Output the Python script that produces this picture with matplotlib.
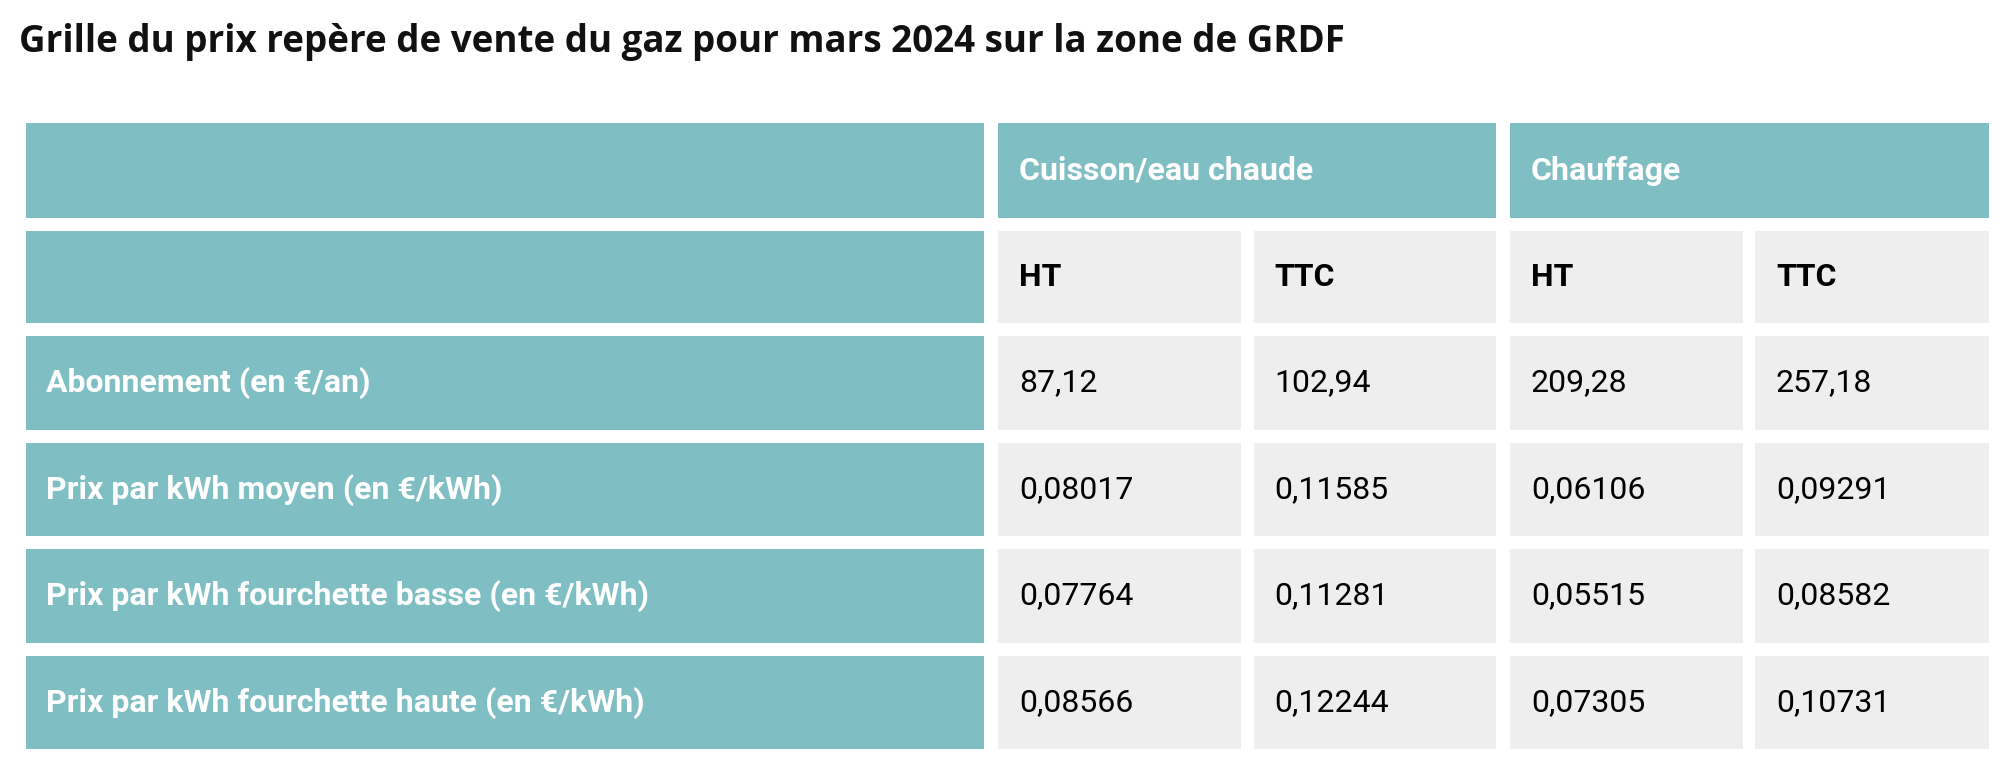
import matplotlib
matplotlib.use("Agg")
import matplotlib.pyplot as plt
from matplotlib.patches import Rectangle

title = "Grille du prix repère de vente du gaz pour mars 2024 sur la zone de GRDF"
groups = ["Cuisson/eau chaude", "Chauffage"]
subheaders = ["HT", "TTC", "HT", "TTC"]
row_labels = ["Abonnement (en €/an)", "Prix par kWh moyen (en €/kWh)",
              "Prix par kWh fourchette basse (en €/kWh)", "Prix par kWh fourchette haute (en €/kWh)"]
cuisson_ht = ["87,12", "0,08017", "0,07764", "0,08566"]
cuisson_ttc = ["102,94", "0,11585", "0,11281", "0,12244"]
chauffage_ht = ["209,28", "0,06106", "0,05515", "0,07305"]
chauffage_ttc = ["257,18", "0,09291", "0,08582", "0,10731"]

TEAL = "#7fbfc3"
GREY = "#eeeeee"
S = 2012 / 1568

fig = plt.figure(figsize=(20.12, 7.84), dpi=100)
ax = fig.add_axes([0, 0, 1, 1])
ax.set_xlim(0, 2012); ax.set_ylim(784, 0); ax.axis("off")

cols = [(20, 767), (778, 967), (977, 1166), (1177, 1358), (1368, 1550)]
rows = [(96, 170), (180, 252), (262, 335), (345, 418), (428, 501), (511, 584)]

def rect(x0, x1, y0, y1, c):
    ax.add_patch(Rectangle((x0 * S, y0 * S), (x1 - x0) * S, (y1 - y0) * S, color=c, lw=0))

def txt(x, y, s, color, bold):
    ax.text((x) * S, y * S, s, color=color, fontsize=23, fontfamily="Roboto",
            fontweight="bold" if bold else "normal", va="center", ha="left")

ax.text(15 * S, 33 * S, title, fontsize=26.5, fontweight="bold", fontfamily="Open Sans",
        va="center", ha="left", color="#111111")

r = rows[0]
rect(cols[0][0], cols[0][1], r[0], r[1], TEAL)
rect(cols[1][0], cols[2][1], r[0], r[1], TEAL)
rect(cols[3][0], cols[4][1], r[0], r[1], TEAL)
ym = (r[0] + r[1]) / 2
txt(cols[1][0] + 16, ym, groups[0], "white", True)
txt(cols[3][0] + 16, ym, groups[1], "white", True)

r = rows[1]
ym = (r[0] + r[1]) / 2
rect(cols[0][0], cols[0][1], r[0], r[1], TEAL)
for j, h in enumerate(subheaders):
    c = cols[j + 1]
    rect(c[0], c[1], r[0], r[1], GREY)
    txt(c[0] + 16, ym, h, "black", True)

data_cols = [cuisson_ht, cuisson_ttc, chauffage_ht, chauffage_ttc]
for i, lab in enumerate(row_labels):
    r = rows[i + 2]
    ym = (r[0] + r[1]) / 2
    rect(cols[0][0], cols[0][1], r[0], r[1], TEAL)
    txt(cols[0][0] + 16, ym, lab, "white", True)
    for j, vals in enumerate(data_cols):
        c = cols[j + 1]
        rect(c[0], c[1], r[0], r[1], GREY)
        txt(c[0] + 16, ym, vals[i], "black", False)

fig.savefig("out.png", dpi=100)
